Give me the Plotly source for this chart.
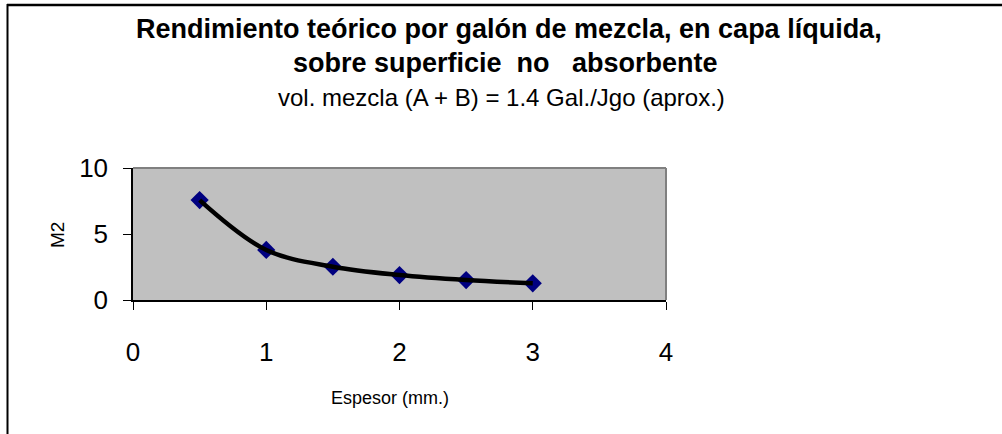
import plotly.graph_objects as go

# Data
espesor_mm = [0.5, 1.0, 1.5, 2.0, 2.5, 3.0]
rendimiento_m2 = [7.57, 3.79, 2.52, 1.89, 1.51, 1.26]
x_ticks = [0, 1, 2, 3, 4]
y_ticks = [0, 5, 10]

title_line1 = "Rendimiento teórico por galón de mezcla, en capa líquida,"
title_line2 = "sobre superficie  no   absorbente"
subtitle = "vol. mezcla (A + B) = 1.4 Gal./Jgo (aprox.)"
x_title = "Espesor (mm.)"
y_title = "M2"

W, H = 1002, 434
# plot area in page pixels
PX0, PX1, PY0, PY1 = 133, 666, 168, 300
ML, MT = PX0, PY0
PW, PH = PX1 - PX0, PY1 - PY0
MR = W - ML - PW
MB = H - MT - PH

def px_x(px):
    return (px - PX0) / PW

def px_y(py):
    return (PY1 - py) / PH

FONT = "Liberation Sans, Arial, sans-serif"

fig = go.Figure()
fig.add_trace(go.Scatter(
    x=espesor_mm, y=rendimiento_m2, mode="markers",
    marker=dict(symbol="diamond", size=14, color="#000080"),
    showlegend=False,
))
fig.add_trace(go.Scatter(
    x=espesor_mm, y=rendimiento_m2, mode="lines",
    line=dict(color="black", width=4.5, shape="spline", smoothing=1.0),
    hoverinfo="skip", showlegend=False,
))

fig.update_layout(
    width=W, height=H,
    margin=dict(l=ML, r=MR, t=MT, b=MB),
    paper_bgcolor="white",
    plot_bgcolor="#C0C0C0",
    font=dict(family=FONT, color="black"),
    showlegend=False,
)

fig.update_xaxes(
    range=[0, 4], tickvals=x_ticks, ticktext=[str(v) for v in x_ticks],
    showgrid=False, zeroline=False,
    showline=True, linecolor="black", linewidth=1.5,
    ticks="outside", ticklen=8, tickcolor="black", tickwidth=1,
    tickfont=dict(size=26, family=FONT),
    ticklabelstandoff=20,
)
fig.update_yaxes(
    range=[0, 10], tickvals=y_ticks, ticktext=[str(v) for v in y_ticks],
    showgrid=False, zeroline=False,
    showline=True, linecolor="black", linewidth=1.5,
    ticks="outside", ticklen=8, tickcolor="black", tickwidth=1,
    tickfont=dict(size=26, family=FONT),
    ticklabelstandoff=10,
)

# plot-area border (gray top/right)
fig.add_shape(type="line", xref="paper", yref="paper", x0=0, x1=1, y0=1, y1=1,
              line=dict(color="#808080", width=2))
fig.add_shape(type="line", xref="paper", yref="paper", x0=1, x1=1, y0=0, y1=1,
              line=dict(color="#808080", width=2))

# chart frame (top and left)
fig.add_shape(type="line", xref="paper", yref="paper",
              x0=px_x(7), x1=px_x(1002), y0=px_y(5), y1=px_y(5),
              line=dict(color="black", width=2.5))
fig.add_shape(type="line", xref="paper", yref="paper",
              x0=px_x(7.5), x1=px_x(7.5), y0=px_y(4), y1=px_y(434),
              line=dict(color="black", width=2))

# axis titles
fig.add_annotation(xref="paper", yref="paper", x=px_x(57), y=px_y(235),
                   text=y_title, textangle=-90, showarrow=False,
                   font=dict(size=19, family=FONT), xanchor="center", yanchor="middle")
fig.add_annotation(xref="paper", yref="paper", x=px_x(390), y=px_y(398),
                   text=x_title, showarrow=False,
                   font=dict(size=18, family=FONT), xanchor="center", yanchor="middle")

cx = px_x(509)
fig.add_annotation(xref="paper", yref="paper", x=cx, y=px_y(29),
                   text="<b>" + title_line1 + "</b>", showarrow=False,
                   font=dict(size=27, family=FONT), xanchor="center", yanchor="middle")
fig.add_annotation(xref="paper", yref="paper", x=px_x(505), y=px_y(63),
                   text="<b>" + title_line2.replace(" ", "&nbsp;") + "</b>", showarrow=False,
                   font=dict(size=27, family=FONT), xanchor="center", yanchor="middle")
fig.add_annotation(xref="paper", yref="paper", x=px_x(501), y=px_y(97),
                   text=subtitle, showarrow=False,
                   font=dict(size=24, family=FONT), xanchor="center", yanchor="middle")

fig.write_html("out.html", config={"displayModeBar": False},
               post_script="document.body.style.margin='0px';")
